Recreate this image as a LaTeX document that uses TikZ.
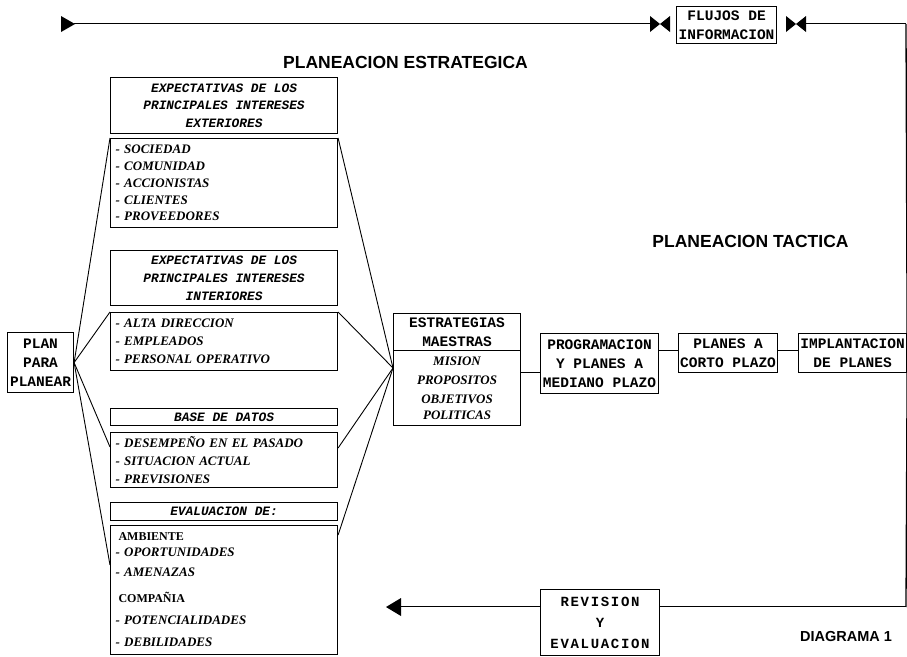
\documentclass[tikz,border=0pt]{standalone}
\usepackage{fontspec}
\setmainfont{Liberation Serif}
\newfontfamily\courfont{Liberation Mono}
\newfontfamily\courls{Liberation Mono}[LetterSpace=12]
\newfontfamily\helvfont{Liberation Sans}
\usetikzlibrary{calc}
\tikzset{
  box/.style={draw, line width=1.1pt, inner sep=0pt, anchor=north west},
  hdr/.style={font=\courfont\bfseries\itshape\fontsize{12.8}{17.75}\selectfont, align=center},
  lbx/.style={font=\courfont\bfseries\fontsize{14.5}{19}\selectfont, align=center},
  lst/.style={font=\bfseries\itshape\fontsize{13}{18}\selectfont, align=left, inner xsep=5pt},
  ttl/.style={font=\helvfont\bfseries\fontsize{17.5}{20}\selectfont, inner sep=0pt},
  thinln/.style={line width=0.9pt},
  dline/.style={draw=black, line width=2.6pt, postaction={draw=white, line width=0.9pt}},
  vline/.style={line width=1.3pt},
}
\begin{document}
\begin{tikzpicture}[x=1pt,y=-1pt]
\path[use as bounding box, fill=white] (0,0) rectangle (907,656);

% titles
\node[ttl] (t1) at (405.5,62) {PLANEACION ESTRATEGICA};
\node[ttl] (t2) at (750.5,241) {PLANEACION TACTICA};
\node[ttl, font=\helvfont\bfseries\fontsize{14.5}{17}\selectfont] (t3) at (846,636) {DIAGRAMA 1};

% information flow (top)
\node[box, lbx, minimum width=100pt, minimum height=37pt] (fl) at (676,6) {FLUJOS DE\\INFORMACION};
\coordinate (tb) at (74,24);
\coordinate (b1w) at (651,24);
\coordinate (b1) at (660,24);
\coordinate (b2) at (796,24);
\coordinate (b2e) at (805,24);
\coordinate (tr) at (906,24);
\draw[dline] (tb) -- (b1w);
\draw[dline] (b2e) -- (tr);
\fill (61,16) -- (75,24) -- (61,32) -- cycle;
\fill (650,16) -- (b1) -- (650,32) -- cycle;
\fill (670,16) -- (b1) -- (670,32) -- cycle;
\fill (786,16) -- (b2) -- (786,32) -- cycle;
\fill (806,16) -- (b2) -- (806,32) -- cycle;

% left column
\node[box, lbx, minimum width=66pt, minimum height=60pt] (plan) at (7,332) {PLAN\\PARA\\PLANEAR};

\node[box, hdr, minimum width=227pt, minimum height=56pt] (h1) at (110,77) {EXPECTATIVAS DE LOS\\PRINCIPALES INTERESES\\EXTERIORES};
\node[box, lst, font=\bfseries\itshape\fontsize{13}{16.75}\selectfont, text width=217pt, minimum height=89pt] (l1) at (110,138) {- SOCIEDAD\\- COMUNIDAD\\- ACCIONISTAS\\- CLIENTES\\- PROVEEDORES};

\node[box, hdr, minimum width=227pt, minimum height=55pt] (h2) at (110,250) {EXPECTATIVAS DE LOS\\PRINCIPALES INTERESES\\INTERIORES};
\node[box, lst, text width=217pt, minimum height=58pt] (l2) at (110,312) {- ALTA DIRECCION\\- EMPLEADOS\\- PERSONAL OPERATIVO};

\node[box, hdr, minimum width=227pt, minimum height=17pt] (h3) at (110,408) {BASE DE DATOS};
\node[box, lst, text width=217pt, minimum height=55pt] (l3) at (110,432) {- DESEMPEÑO EN EL PASADO\\- SITUACION ACTUAL\\- PREVISIONES};

\node[box, hdr, minimum width=227pt, minimum height=18pt] (h4) at (110,502) {EVALUACION DE:};
\node[box, lst, font=\bfseries\itshape\fontsize{13}{16}\selectfont, text width=217pt, minimum height=129pt] (l4) at (110,525)
 {\hspace*{3pt}{\upshape\fontsize{12}{16}\selectfont AMBIENTE}\\- OPORTUNIDADES\\[4pt]- AMENAZAS\\[10pt]\hspace*{3pt}{\upshape\fontsize{12}{16}\selectfont COMPAÑIA}\\[6pt]- POTENCIALIDADES\\[6pt]- DEBILIDADES};

% strategies
\node[box, lbx, minimum width=127pt, minimum height=37pt] (es) at (393,313) {ESTRATEGIAS\\MAESTRAS};
\node[box, font=\bfseries\itshape\fontsize{13}{19}\selectfont, align=center, minimum width=127pt, minimum height=75pt] (em) at (393,350) {MISION\\PROPOSITOS\\OBJETIVOS\\[-3pt]POLITICAS};

% converging lines
\coordinate (ej) at ($(es.north west)+(0,55)$);
\draw[thinln] (plan.east) -- (l1.north west);
\draw[thinln] (plan.east) -- (l2.north west);
\draw[thinln] (plan.east) -- ($(l3.north west)+(0,15)$);
\draw[thinln] (plan.east) -- ($(l4.north west)+(0,40)$);
\draw[thinln] (l1.north east) -- (ej);
\draw[thinln] (l2.north east) -- (ej);
\draw[thinln] ($(l3.north east)+(0,16)$) -- (ej);
\draw[thinln] ($(l4.north east)+(0,10)$) -- (ej);

% tactical chain
\node[box, lbx, minimum width=118pt, minimum height=60pt] (pr) at (540,333) {PROGRAMACION\\Y PLANES A\\MEDIANO PLAZO};
\node[box, lbx, minimum width=99pt, minimum height=39pt] (cp) at (678,333) {PLANES A\\CORTO PLAZO};
\node[box, lbx, minimum width=108pt, minimum height=39pt] (im) at (798,333) {IMPLANTACION\\DE PLANES};

\draw[dline] ($(es.north east)+(0,60)$) -- ($(pr.north west)+(0,40)$);
\draw[dline] ($(pr.north east)+(0,18)$) -- ($(cp.north west)+(0,18)$);
\draw[dline] ($(cp.north east)+(0,18)$) -- ($(im.north west)+(0,18)$);

% right loop and review
\node[box, font=\courls\bfseries\fontsize{14}{21}\selectfont, align=center, minimum width=119pt, minimum height=66pt] (rev) at (540,589) {REVISION\\Y\\EVALUACION};
\coordinate (br) at (906,607);
\coordinate (ba) at (400,607);
\draw[vline] (tr) -- (im.north east);
\draw[vline] (im.south east) -- (br);
\draw[dline] (br) -- ($(rev.north east)+(0,18)$);
\draw[dline] ($(rev.north west)+(0,18)$) -- (ba);
\fill (386,607) -- (401,598) -- (401,616) -- cycle;
\end{tikzpicture}
\end{document}
